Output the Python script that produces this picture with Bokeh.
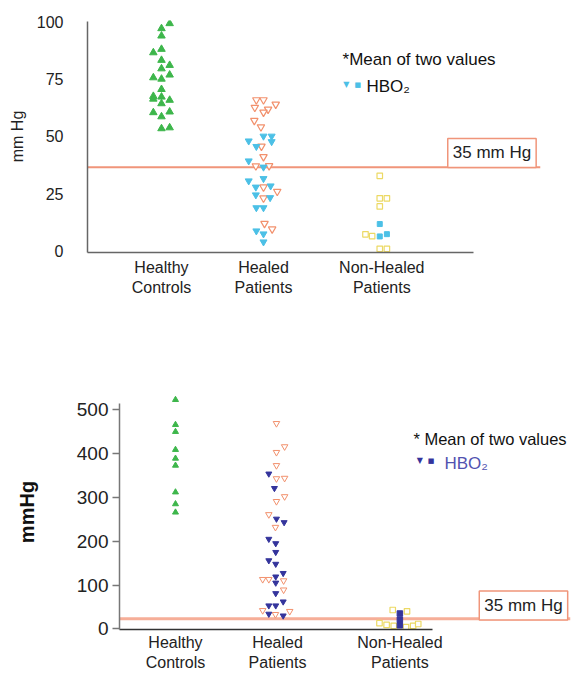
from bokeh.plotting import figure
from bokeh.models import Span, Label, FixedTicker, Range1d
from bokeh.layouts import column
from bokeh.embed import file_html
from bokeh.resources import INLINE

FONT = "Liberation Sans"

categories = ["Healthy\nControls", "Healed\nPatients", "Non-Healed\nPatients"]

# ---------------- top chart (mm Hg) ----------------
top_cat_pos = [1.0, 2.0, 3.16]
top_ticks = [0, 25, 50, 75, 100]
top_threshold = 36.5

top_healthy_dx = [0.08, 0, 0, -0.08, 0, 0, 0.08, 0, -0.08, 0, 0.08, 0, -0.08, -0.08, 0, 0, 0.08, -0.08, 0.08, 0, 0, 0.08]
top_healthy_y = [99.2, 97.0, 93.8, 86.5, 88.0, 83.2, 81.0, 79.5, 75.6, 75.0, 76.8, 70.5, 67.5, 66.3, 67.2, 64.3, 65.8, 60.4, 60.7, 58.6, 53.4, 53.8]

top_healed_dx = [-0.07, 0, -0.085, 0.045, 0, 0.12, -0.09, -0.025, -0.02, 0, -0.075, 0.055, 0, 0.135, 0, 0.01, 0.085]
top_healed_y = [65.9, 65.9, 62.6, 61.8, 60.5, 64.0, 56.9, 54.1, 45.7, 41.1, 37.1, 37.2, 27.9, 26.0, 23.1, 12.0, 9.6]

top_healed_hbo_dx = [-0.145, 0, 0.08, 0.08, -0.07, -0.145, 0, -0.145, 0, -0.075, 0.07, -0.075, 0.065, -0.07, 0, -0.07, 0, 0]
top_healed_hbo_y = [48.0, 50.1, 50.1, 47.7, 45.6, 39.3, 36.6, 30.6, 31.6, 27.9, 28.4, 24.5, 23.3, 18.9, 18.9, 8.8, 7.5, 4.0]

top_nonhealed_dx = [-0.02, -0.02, 0.05, -0.02, -0.16, -0.095, -0.02, 0.05]
top_nonhealed_y = [32.8, 23.0, 23.0, 19.5, 7.3, 6.5, 1.0, 1.0]

top_nonhealed_hbo_dx = [-0.02, -0.02, 0.05]
top_nonhealed_hbo_y = [11.8, 6.4, 7.4]

# ---------------- bottom chart (mmHg) ----------------
bot_cat_pos = [1.0, 2.0, 3.2]
bot_ticks = [0, 100, 200, 300, 400, 500]
bot_threshold = 23

bot_healthy_dx = [0, 0, 0, 0, 0, 0, 0, 0, 0]
bot_healthy_y = [523, 466, 450, 409, 389, 373, 312, 285, 266]

bot_healed_dx = [-0.01, -0.01, 0.07, -0.01, -0.01, 0.07, 0.07, -0.01, -0.085, -0.02, -0.145, -0.085, 0.06, 0.06, -0.145, -0.02, 0.12]
bot_healed_y = [469, 403, 416, 373, 343, 344, 302, 291, 261, 232, 113, 113, 110, 89, 42, 33, 40]

bot_healed_hbo_dx = [-0.085, -0.03, -0.01, 0.065, -0.085, -0.017, -0.017, -0.085, -0.017, 0.056, -0.017, -0.017, -0.017, 0.056, -0.085, -0.017, -0.085, 0.056]
bot_healed_hbo_y = [354, 321, 251, 243, 205, 195, 175, 156, 148, 127, 119, 105, 81, 62, 53, 53, 34, 30]

bot_nonhealed_dx = [-0.07, 0.07, -0.2, -0.13, -0.06, 0.06, 0.13, 0.18]
bot_nonhealed_y = [43, 40, 13, 9, 7, 4, 7, 11]

bot_nonhealed_hbo_dx = [0, 0, 0]
bot_nonhealed_hbo_y = [35, 21, 8]

GREEN = "#3db64b"
ORANGE = "#f2916d"
CYAN = "#4cc0e6"
YELLOW = "#ecd964"
BLUE = "#34349c"
LINE_TOP = "#f0957a"
LINE_BOT = "#f6ae98"


def xs(pos, dx):
    return [pos + d for d in dx]


# ================= TOP =================
p1 = figure(width=571, height=380, x_range=Range1d(0.2745, 4.716), y_range=Range1d(-0.6, 100.5),
            output_backend="svg", toolbar_location=None,
            min_border_left=87, min_border_right=31, min_border_top=20, min_border_bottom=128)
p1.frame_align = False
p1.grid.visible = False
p1.outline_line_color = None

p1.add_layout(Span(location=top_threshold, dimension="width", line_color=LINE_TOP, line_width=2, level="underlay"))

p1.scatter(xs(top_cat_pos[0], top_healthy_dx), top_healthy_y, marker="triangle", size=7.5,
           fill_color=GREEN, line_color=GREEN)
p1.scatter(xs(top_cat_pos[1], top_healed_dx), top_healed_y, marker="inverted_triangle", size=7.5,
           fill_color="white", line_color=ORANGE, line_width=1.2)
p1.scatter(xs(top_cat_pos[1], top_healed_hbo_dx), top_healed_hbo_y, marker="inverted_triangle", size=7,
           fill_color=CYAN, line_color=CYAN)
p1.scatter(xs(top_cat_pos[2], top_nonhealed_dx), top_nonhealed_y, marker="square", size=5.5,
           fill_color="white", line_color=YELLOW, line_width=1.2)
p1.scatter(xs(top_cat_pos[2], top_nonhealed_hbo_dx), top_nonhealed_hbo_y, marker="square", size=5,
           fill_color=CYAN, line_color=CYAN)

p1.yaxis.ticker = FixedTicker(ticks=top_ticks)
p1.yaxis.bounds = (-0.6, 100)
p1.yaxis.major_tick_out = 0
p1.yaxis.major_tick_in = 0
p1.yaxis.minor_tick_out = 0
p1.yaxis.minor_tick_in = 0
p1.yaxis.major_label_standoff = 24
p1.yaxis.axis_line_color = "#666666"
p1.yaxis.axis_line_width = 1.5
p1.yaxis.major_label_text_font = FONT
p1.yaxis.major_label_text_font_size = "16px"
p1.yaxis.major_label_text_color = "#222222"
p1.yaxis.axis_label = "mm Hg"
p1.yaxis.axis_label_standoff = 8
p1.yaxis.axis_label_text_font = FONT
p1.yaxis.axis_label_text_font_size = "16px"
p1.yaxis.axis_label_text_font_style = "normal"
p1.yaxis.axis_label_text_color = "#222222"

p1.xaxis.ticker = FixedTicker(ticks=top_cat_pos)
p1.xaxis.major_label_overrides = {pos: lab for pos, lab in zip(top_cat_pos, categories)}
p1.xaxis.bounds = (0.2745, 4.06)
p1.xaxis.major_tick_out = 0
p1.xaxis.major_tick_in = 0
p1.xaxis.minor_tick_out = 0
p1.xaxis.major_label_standoff = 6
p1.xaxis.axis_line_color = "#666666"
p1.xaxis.axis_line_width = 1.5
p1.xaxis.major_label_text_font = FONT
p1.xaxis.major_label_text_font_size = "16px"
p1.xaxis.major_label_text_color = "#222222"

p1.add_layout(Label(x=2.775, y=83.5, text="*Mean of two values", text_font=FONT, text_font_size="17px",
                    text_align="left", text_baseline="middle", text_color="#111111"))
p1.add_layout(Label(x=3.01, y=71.7, text="HBO₂", text_font=FONT, text_font_size="17px",
                    text_align="left", text_baseline="middle", text_color="#111111"))
p1.add_layout(Label(x=2.811, y=72.6, text="▼", text_font="DejaVu Sans", text_font_size="8px",
                    text_align="center", text_baseline="middle", text_color=CYAN))
p1.add_layout(Label(x=2.925, y=72.6, text="■", text_font="DejaVu Sans", text_font_size="7px",
                    text_align="center", text_baseline="middle", text_color=CYAN))
p1.add_layout(Label(x=4.24, y=42.76, text="35 mm Hg", text_font=FONT, text_font_size="17px",
                    text_align="center", text_baseline="middle", text_color="#222222",
                    background_fill_color="white", border_line_color=LINE_TOP, border_line_width=1.5,
                    padding=5))

# ================= BOTTOM =================
p2 = figure(width=571, height=293, x_range=Range1d(0.451, 4.873), y_range=Range1d(-1.5, 535),
            output_backend="svg", toolbar_location=None,
            min_border_left=119, min_border_right=1, min_border_top=14, min_border_bottom=44)
p2.frame_align = False
p2.grid.visible = False
p2.outline_line_color = None

p2.add_layout(Span(location=bot_threshold, dimension="width", line_color=LINE_BOT, line_width=3, level="underlay"))

p2.scatter(xs(bot_cat_pos[0], bot_healthy_dx), bot_healthy_y, marker="triangle", size=6,
           fill_color=GREEN, line_color=GREEN)
p2.scatter(xs(bot_cat_pos[1], bot_healed_dx), bot_healed_y, marker="inverted_triangle", size=6.5,
           fill_color="white", line_color=ORANGE, line_width=1)
p2.scatter(xs(bot_cat_pos[1], bot_healed_hbo_dx), bot_healed_hbo_y, marker="inverted_triangle", size=6,
           fill_color=BLUE, line_color=BLUE)
p2.scatter(xs(bot_cat_pos[2], bot_nonhealed_dx), bot_nonhealed_y, marker="square", size=5.5,
           fill_color="white", line_color=YELLOW, line_width=1.2)
p2.scatter(xs(bot_cat_pos[2], bot_nonhealed_hbo_dx), bot_nonhealed_hbo_y, marker="square", size=5.5,
           fill_color=BLUE, line_color=BLUE)

p2.yaxis.ticker = FixedTicker(ticks=bot_ticks)
p2.yaxis.bounds = (-1.5, 514)
p2.yaxis.major_tick_out = 7
p2.yaxis.major_tick_in = 0
p2.yaxis.minor_tick_out = 0
p2.yaxis.minor_tick_in = 0
p2.yaxis.major_tick_line_color = "#777777"
p2.yaxis.major_tick_line_width = 1.5
p2.yaxis.major_label_standoff = 4
p2.yaxis.axis_line_color = "#777777"
p2.yaxis.axis_line_width = 1.5
p2.yaxis.major_label_text_font = FONT
p2.yaxis.major_label_text_font_size = "19px"
p2.yaxis.major_label_text_color = "#222222"
p2.yaxis.axis_label = "mmHg"
p2.yaxis.axis_label_standoff = 36
p2.yaxis.axis_label_text_font = FONT
p2.yaxis.axis_label_text_font_size = "20px"
p2.yaxis.axis_label_text_font_style = "bold"
p2.yaxis.axis_label_text_color = "#111111"

p2.xaxis.ticker = FixedTicker(ticks=bot_cat_pos)
p2.xaxis.major_label_overrides = {pos: lab for pos, lab in zip(bot_cat_pos, categories)}
p2.xaxis.bounds = (0.451, 3.52)
p2.xaxis.major_tick_out = 0
p2.xaxis.major_tick_in = 0
p2.xaxis.minor_tick_out = 0
p2.xaxis.minor_tick_in = 0
p2.xaxis.major_label_standoff = 4
p2.xaxis.major_label_text_font = FONT
p2.xaxis.major_label_text_font_size = "16px"
p2.xaxis.major_label_text_color = "#222222"
p2.xaxis.axis_line_color = "#333333"
p2.xaxis.axis_line_width = 1.5

p2.add_layout(Label(x=3.333, y=434.5, text="* Mean of two values", text_font=FONT, text_font_size="16.5px",
                    text_align="left", text_baseline="middle", text_color="#111111"))
p2.add_layout(Label(x=3.637, y=377.5, text="HBO₂", text_font=FONT, text_font_size="17px",
                    text_align="left", text_baseline="middle", text_color="#5252b0"))
p2.add_layout(Label(x=3.395, y=384.3, text="▼", text_font="DejaVu Sans", text_font_size="8px",
                    text_align="center", text_baseline="middle", text_color=BLUE))
p2.add_layout(Label(x=3.507, y=384.3, text="■", text_font="DejaVu Sans", text_font_size="7px",
                    text_align="center", text_baseline="middle", text_color=BLUE))
p2.add_layout(Label(x=4.412, y=53.3, text="35 mm Hg", text_font=FONT, text_font_size="17px",
                    text_align="center", text_baseline="middle", text_color="#222222",
                    background_fill_color="white", border_line_color=LINE_TOP, border_line_width=1.5,
                    padding=5))

layout = column(p1, p2)
open("out.html", "w").write(file_html(layout, INLINE))
